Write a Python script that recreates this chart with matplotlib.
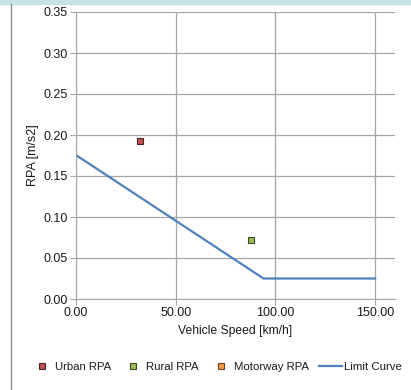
import numpy as np
import matplotlib.pyplot as plt
from matplotlib.patches import Rectangle
from matplotlib.lines import Line2D

plt.rcParams['font.family'] = ['Liberation Sans', 'DejaVu Sans']

# data
urban_speed = [32.1]
urban_rpa = [0.193]
rural_speed = [87.9]
rural_rpa = [0.072]
motorway_speed = []
motorway_rpa = []
limit_speed = [0.0, 94.05, 150.0]
limit_rpa = [0.1755, 0.025, 0.025]

x_ticks = [0, 50, 100, 150]
y_ticks = [0.00, 0.05, 0.10, 0.15, 0.20, 0.25, 0.30, 0.35]

red, green, orange, blue = '#C0504D', '#9BBB59', '#F79646', '#4F81BD'

fig = plt.figure(figsize=(4.11, 3.90), dpi=100)
ax = fig.add_axes([76/411, 1-299/390, 319/411, 287/390])

ax.plot(urban_speed, urban_rpa, 's', ms=4, mfc=red, mec='#4a2422', mew=0.8, zorder=3)
ax.plot(rural_speed, rural_rpa, 's', ms=4, mfc=green, mec='#3e4a22', mew=0.8, zorder=3)
ax.plot(motorway_speed, motorway_rpa, 's', ms=4, mfc=orange, mec='#6a4020', mew=0.8, zorder=3)
ax.plot(limit_speed, limit_rpa, color=blue, lw=1.6, zorder=2)

ax.set_xlim(0, 160)
ax.set_ylim(0, 0.35)
ax.set_xticks(x_ticks)
ax.set_xticklabels([f'{v:.2f}' for v in x_ticks])
ax.set_yticks(y_ticks)
ax.set_yticklabels([f'{v:.2f}' for v in y_ticks])
ax.grid(True, color='#a6a6a6', lw=0.9)
ax.set_axisbelow(True)
for s in ['top', 'right']:
    ax.spines[s].set_visible(False)
for s in ['left', 'bottom']:
    ax.spines[s].set_color('#a6a6a6')
ax.tick_params(axis='both', length=4, color='#a6a6a6', labelsize=9, pad=2,
               labelcolor='#1a1a1a')
ax.set_xlabel('Vehicle Speed [km/h]', fontsize=8.7, labelpad=4, color='#1a1a1a')
ax.set_ylabel('RPA [m/s2]', fontsize=9, labelpad=3, color='#1a1a1a')

handles = [
    Line2D([], [], ls='', marker='s', ms=4.5, mfc=red, mec='#4a2422', mew=0.8),
    Line2D([], [], ls='', marker='s', ms=4.5, mfc=green, mec='#3e4a22', mew=0.8),
    Line2D([], [], ls='', marker='s', ms=4.5, mfc=orange, mec='#6a4020', mew=0.8),
    Line2D([], [], color=blue, lw=1.6),
]
leg = fig.legend(handles, ['Urban RPA', 'Rural RPA', 'Motorway RPA', 'Limit Curve'],
                 loc='center', bbox_to_anchor=(216/411, 1-367/390), ncol=4, frameon=False,
                 fontsize=8.2, handlelength=2.0, handletextpad=0.12, columnspacing=0.95)
for t in leg.get_texts():
    t.set_color('#1a1a1a')

# frame decorations
fig.patches.append(Rectangle((0, 1-4/390), 1, 4/390, transform=fig.transFigure,
                             color='#c5e2e6', zorder=0))
fig.lines.append(Line2D([11/411, 11/411], [0, 1-4/390], transform=fig.transFigure,
                        color='#8c8c8c', lw=1))

fig.savefig('out.png', dpi=100)
